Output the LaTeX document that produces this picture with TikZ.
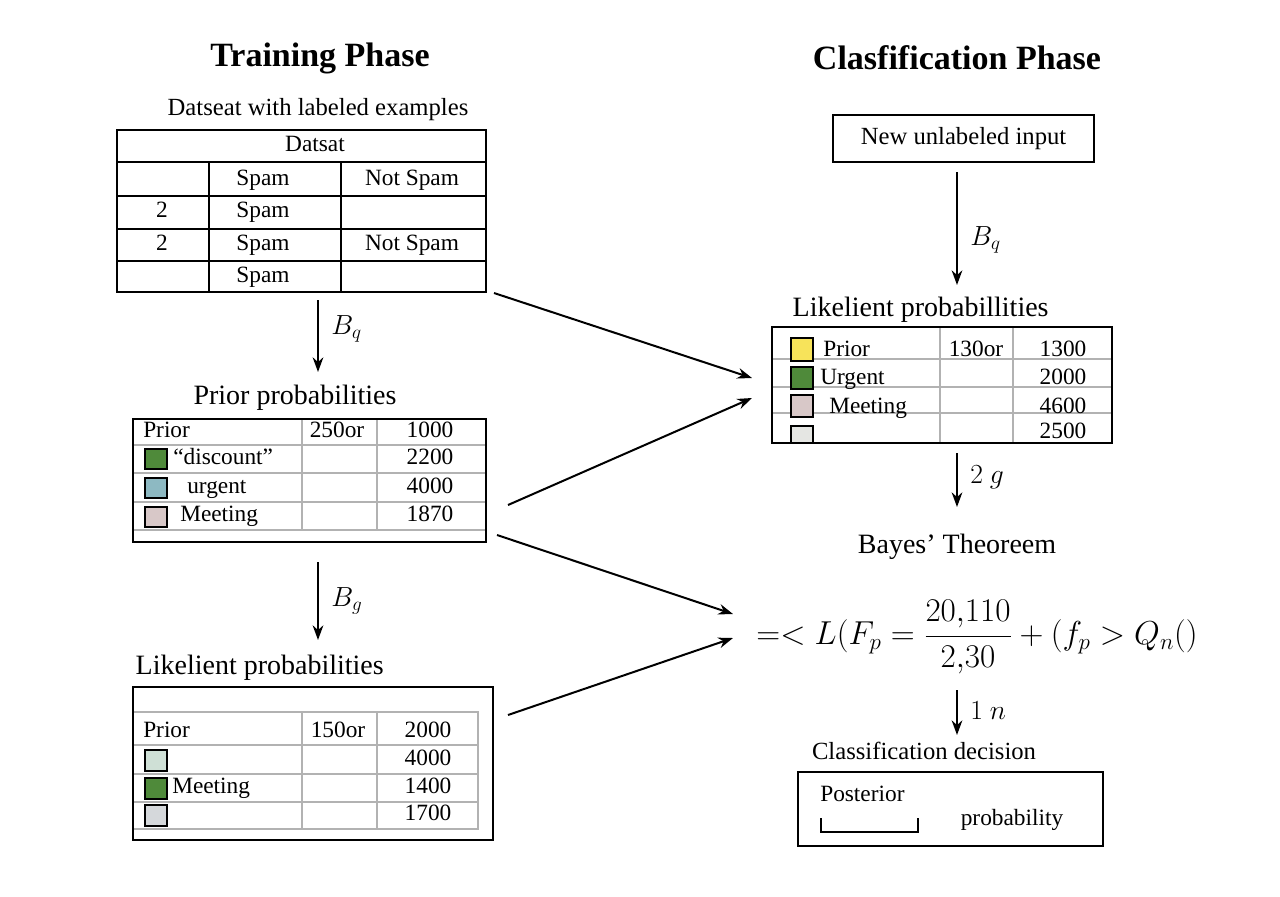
\documentclass[tikz,border=0pt]{standalone}
\usepackage{fontspec}
\setmainfont{Liberation Serif}
\usetikzlibrary{arrows.meta}
\definecolor{sgreen}{HTML}{4F8A3A}
\definecolor{steal}{HTML}{8DB9C2}
\definecolor{spink}{HTML}{D8C8C8}
\definecolor{syellow}{HTML}{F7E35A}
\definecolor{smint}{HTML}{CFE0D6}
\definecolor{sgray}{HTML}{D5D8DB}
\definecolor{slight}{HTML}{E5E6E3}
\begin{document}
\begin{tikzpicture}[x=0.75pt,y=-0.75pt,
  title/.style={font=\fontsize{25.5}{30}\selectfont\bfseries},
  head/.style={font=\fontsize{21}{25}\selectfont},
  txt/.style={font=\fontsize{18.5}{22}\selectfont},
  cell/.style={font=\fontsize{17.5}{20}\selectfont,inner sep=0pt,text height=11pt,text depth=3.5pt},
  lcell/.style={cell,anchor=west},
  lab/.style={font=\fontsize{20}{24}\selectfont},
  box/.style={draw,line width=1pt},
  grid/.style={draw=gray!60,line width=0.8pt},
  sw/.style={draw,line width=0.8pt},
  arr/.style={line width=1.5pt,-{Stealth[length=11pt,width=8pt]}}]
\useasboundingbox (0,0) rectangle (1280,896);
% titles
\node[title] (t1) at (320,58) {Training Phase};
\node[title] (t2) at (957,58) {Clasfification Phase};
% table 1
\node[txt] (d1) at (318,110) {Datseat with labeled examples};
\draw[line width=0.9pt] (117,130) rectangle (486,292);
\foreach \y in {162,196,229,261} \draw[line width=0.9pt] (117,\y) -- (486,\y);
\draw[line width=0.9pt] (209,162) -- (209,292) (341,162) -- (341,292);
\node[cell] (c0) at (315,146) {Datsat};
\node[cell] (c1) at (263,180) {Spam};
\node[cell] (c2) at (412,180) {Not Spam};
\node[cell] (c3) at (162,212) {2};
\node[cell] (c4) at (263,212) {Spam};
\node[cell] (c5) at (162,245) {2};
\node[cell] (c6) at (263,245) {Spam};
\node[cell] (c7) at (412,245) {Not Spam};
\node[cell] (c8) at (263,277) {Spam};
\coordinate (t1bot) at (318,300);
\coordinate (t1r) at (494,293);
% prior
\node[head] (ph) at (295,398) {Prior probabilities};
\coordinate (phtop) at (318,372);
\draw[arr] (t1bot) -- node[lab,right=6pt,pos=0.4]{$B_q$} (phtop);
\foreach \y in {445,473,502,530} \draw[grid] (133,\y) -- (486,\y);
\draw[grid] (302,419) -- (302,530) (377,419) -- (377,530);
\draw[box] (133,419) rectangle (486,542);
\node[lcell] (p0) at (143,432) {Prior};
\node[cell] (p1) at (337,432) {250or};
\node[cell] (p2) at (430,432) {1000};
\draw[sw,fill=sgreen] (145,449) rectangle (167,469);
\node[lcell] (p3) at (173,459) {“discount”};
\node[cell] (p4) at (430,459) {2200};
\draw[sw,fill=steal] (145,478) rectangle (167,498);
\node[lcell] (p5) at (187,488) {urgent};
\node[cell] (p6) at (430,488) {4000};
\draw[sw,fill=spink] (145,507) rectangle (167,527);
\node[lcell] (p7) at (180,516) {Meeting};
\node[cell] (p8) at (430,516) {1870};
\coordinate (p2bot) at (318,562);
\coordinate (p2r1) at (508,505);
\coordinate (p2r2) at (497,535);
% likelihood left
\node[head,anchor=west] (lh) at (131,668) {Likelient probabilities};
\coordinate (lhtop) at (318,640);
\draw[arr] (p2bot) -- node[lab,right=6pt,pos=0.5]{$B_g$} (lhtop);
\draw[grid] (133,712) -- (478,712) -- (478,829) -- (133,829);
\foreach \y in {745,774,802} \draw[grid] (133,\y) -- (478,\y);
\draw[grid] (302,712) -- (302,829) (377,712) -- (377,829);
\draw[box] (133,687) rectangle (493,840);
\node[lcell] (l0) at (143,732) {Prior};
\node[cell] (l1) at (338,732) {150or};
\node[cell] (l2) at (428,732) {2000};
\draw[sw,fill=smint] (145,750) rectangle (167,771);
\node[cell] (l3) at (428,760) {4000};
\draw[sw,fill=sgreen] (145,778) rectangle (167,799);
\node[lcell] (l4) at (172,788) {Meeting};
\node[cell] (l5) at (428,788) {1400};
\draw[sw,fill=sgray] (145,805) rectangle (167,826);
\node[cell] (l6) at (428,815) {1700};
\coordinate (l3r) at (508,715);
% right side
\node[txt,draw,line width=1pt,minimum width=261*0.75pt,minimum height=47*0.75pt] (nu) at (963.5,138.5) {New unlabeled input};
\coordinate (rlhtop) at (957,285);
\draw[arr] (957,172) -- node[lab,right=6pt,pos=0.6]{$B_q$} (rlhtop);
\node[head,anchor=west] (rlh) at (788,310) {Likelient probabillities};
\foreach \y in {359,387,413} \draw[grid] (772,\y) -- (1112,\y);
\draw[grid] (940,327) -- (940,443) (1013,327) -- (1013,443);
\draw[box] (772,327) rectangle (1112,443);
\draw[sw,fill=syellow] (791,338) rectangle (813,361);
\node[lcell] (r0) at (823,351) {Prior};
\node[cell] (r1) at (976,351) {130or};
\node[cell] (r2) at (1063,351) {1300};
\draw[sw,fill=sgreen] (791,367) rectangle (813,389);
\node[lcell] (r3) at (820,379) {Urgent};
\node[cell] (r4) at (1063,379) {2000};
\draw[sw,fill=spink] (791,395) rectangle (813,417);
\node[lcell] (r5) at (829,408) {Meeting};
\node[cell] (r6) at (1063,408) {4600};
\draw[sw,fill=slight] (791,426) rectangle (813,443);
\node[cell] (r7) at (1063,433) {2500};
\coordinate (r4in1) at (752,378);
\coordinate (r4in2) at (752,398);
\coordinate (r4bot) at (957,453);
\node[head] (bt) at (957,547) {Bayes’ Theoreem};
\draw[arr] (r4bot) -- node[lab,right=6pt,pos=0.45]{$2\ g$} (957,507);
\node[font=\fontsize{26}{30}\selectfont] (fm) at (977,637) {$\displaystyle =<L(F_{p}=\frac{20{,}110}{2{,}30}+(f_{p}>Q_{n}()$};
\coordinate (fmin1) at (733,614);
\coordinate (fmin2) at (733,638);
\draw[arr] (957,690) -- node[lab,right=6pt,pos=0.45]{$1\ n$} (957,735);
\node[txt] (cd) at (924,751) {Classification decision};
\node[draw,line width=1pt,minimum width=305*0.75pt,minimum height=74*0.75pt] (dec) at (950.5,809) {};
\node[lcell] (po) at (820,796) {Posterior};
\draw[line width=0.9pt] (821,818) -- (821,832) -- (918,832) -- (918,818);
\node[cell] (pb) at (1012,820) {probability};
% diagonal arrows
\draw[arr] (t1r) -- (r4in1);
\draw[arr] (p2r1) -- (r4in2);
\draw[arr] (p2r2) -- (fmin1);
\draw[arr] (l3r) -- (fmin2);
\end{tikzpicture}
\end{document}
